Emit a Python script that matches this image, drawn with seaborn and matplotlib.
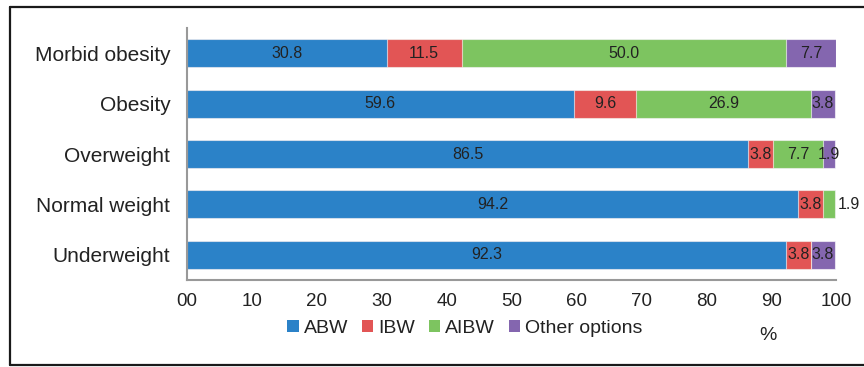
import matplotlib
matplotlib.use("Agg")
import matplotlib.pyplot as plt
from matplotlib.lines import Line2D
from matplotlib.patches import Patch
import numpy as np
import pandas as pd
import seaborn as sns

categories = ["Morbid obesity", "Obesity", "Overweight", "Normal weight", "Underweight"]
series_names = ["ABW", "IBW", "AIBW", "Other options"]
abw = [30.8, 59.6, 86.5, 94.2, 92.3]
ibw = [11.5, 9.6, 3.8, 3.8, 3.8]
aibw = [50.0, 26.9, 7.7, 1.9, 0.0]
other = [7.7, 3.8, 1.9, 0.0, 3.8]
tick_values = [0, 10, 20, 30, 40, 50, 60, 70, 80, 90, 100]
tick_labels = ["00", "10", "20", "30", "40", "50", "60", "70", "80", "90", "100"]
colors = ["#2B82C8", "#E25555", "#7DC460", "#8466AF"]

sns.set_theme(style="white")
plt.rcParams["font.family"] = ["Liberation Sans", "DejaVu Sans"]

values = np.array([abw, ibw, aibw, other])
cum = np.cumsum(values, axis=0)

fig = plt.figure(figsize=(8.64, 3.67), dpi=100)
ax = fig.add_axes([0.2164, 0.237, 0.7512, 0.6867])

# stacked bars: draw cumulative totals from the outermost series inwards
for i in range(len(series_names) - 1, -1, -1):
    df = pd.DataFrame({"category": categories, "value": cum[i]})
    sns.barplot(data=df, x="value", y="category", orient="h", color=colors[i],
                saturation=1, width=0.555, edgecolor=(1, 1, 1, 0.6),
                linewidth=0.8, ax=ax)

# value labels
for i in range(len(series_names)):
    for j, cat in enumerate(categories):
        v = values[i, j]
        if v <= 0:
            continue
        start = cum[i, j] - v
        if cat == "Normal weight" and series_names[i] == "AIBW":
            ax.text(cum[i, j] + 0.4, j, f"{v:.1f}", ha="left", va="center",
                    fontsize=11.5, color="#222222")
        else:
            ax.text(start + v / 2, j, f"{v:.1f}", ha="center", va="center",
                    fontsize=11.5, color="#222222")

ax.set_xlim(0, 100)
ax.set_ylim(4.5, -0.5)
ax.set_xticks(tick_values)
ax.set_xticklabels(tick_labels)
ax.set_xlabel("")
ax.set_ylabel("")
ax.tick_params(axis="x", length=0, pad=9, labelsize=13.5, colors="#222222")
ax.tick_params(axis="y", length=0, pad=12, labelsize=15, colors="#222222")
for s in ["top", "right"]:
    ax.spines[s].set_visible(False)
for s in ["left", "bottom"]:
    ax.spines[s].set_color("#999999")
    ax.spines[s].set_linewidth(1.5)

handles = [Patch(facecolor=c, edgecolor="none") for c in colors]
fig.legend(handles, series_names, loc="center", bbox_to_anchor=(0.538, 0.106),
           ncol=4, frameon=False, fontsize=14, handlelength=0.6, handleheight=0.6,
           handletextpad=0.25, columnspacing=0.7, labelcolor="#222222")
fig.text(0.889, 0.087, "%", ha="center", va="center", fontsize=14, color="#222222")

# outer frame (top, left, bottom)
frame_kw = dict(color="#1a1a1a", linewidth=1.6, transform=fig.transFigure)
fig.add_artist(Line2D([0.0116, 1.0], [0.982, 0.982], **frame_kw))
fig.add_artist(Line2D([0.0116, 0.0116], [0.982, 0.0054], **frame_kw))
fig.add_artist(Line2D([0.0116, 1.0], [0.0054, 0.0054], **frame_kw))

fig.savefig("out.png", dpi=100)
